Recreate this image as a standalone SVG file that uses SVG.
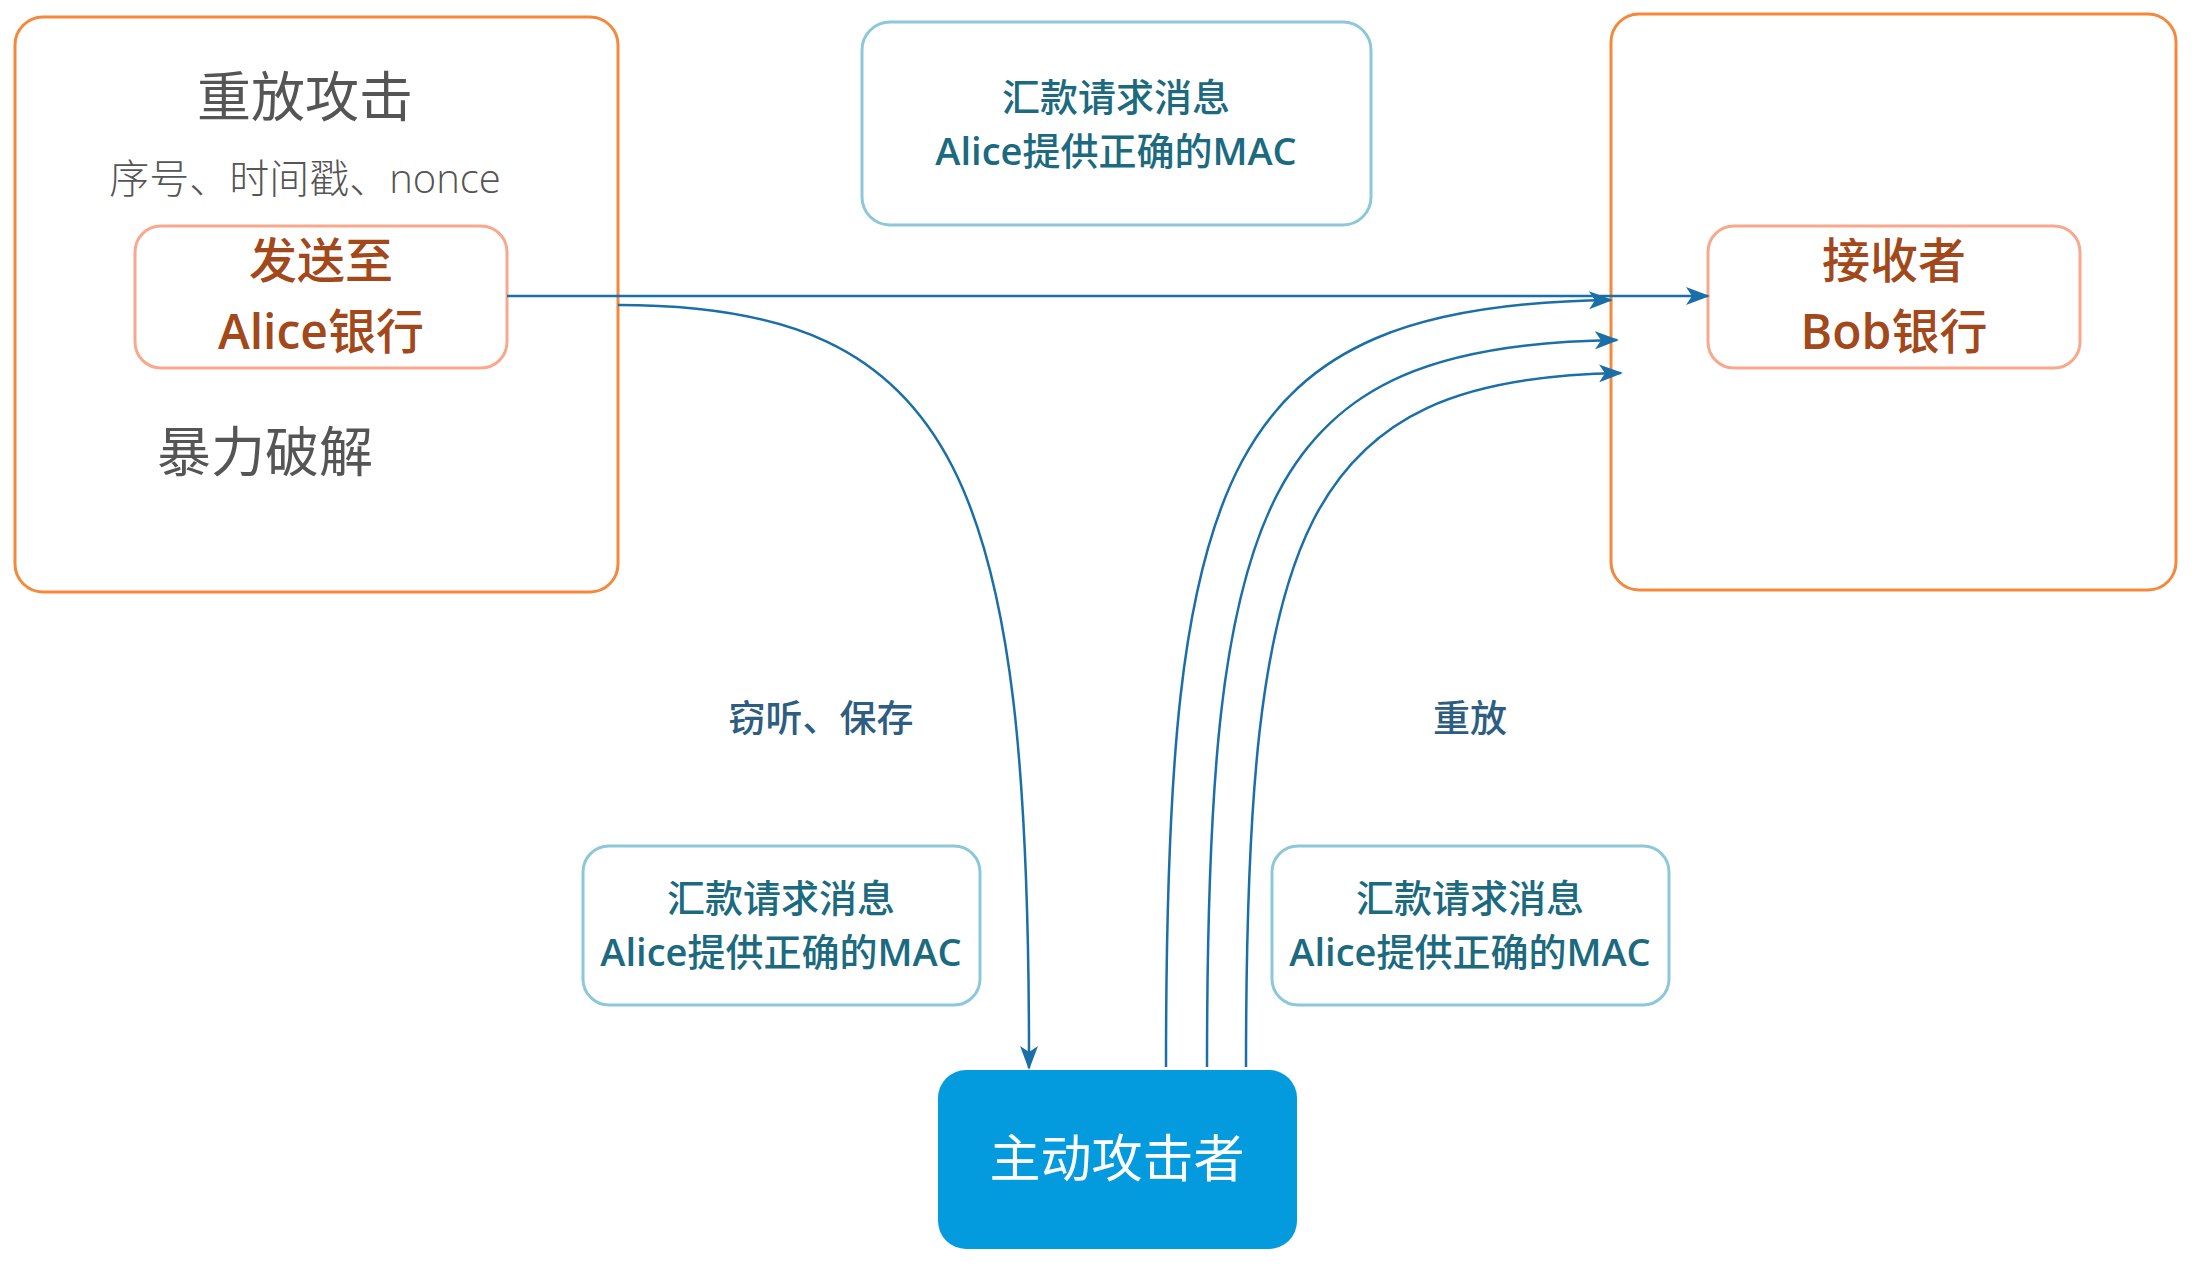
<svg xmlns="http://www.w3.org/2000/svg" width="2201" height="1273" viewBox="0 0 2201 1273">
<defs>
<marker id="arr" viewBox="0 0 24 18" refX="22" refY="9" markerWidth="24" markerHeight="18" markerUnits="userSpaceOnUse" orient="auto">
<path d="M0,0 L24,9 L0,18 L6,9 Z" fill="#1a6fa8"/>
</marker>
<style>
.outer{fill:#fff;stroke:#f5883a;stroke-width:3}
.inner{fill:#fff;stroke:#f8a88c;stroke-width:3}
.msg{fill:#fff;stroke:#8cc7da;stroke-width:3}
.t{font-family:"Open Sans","Noto Sans CJK SC",sans-serif;text-anchor:middle}
.gray{fill:#555}
.brown{fill:#a2481a;font-size:48px;font-weight:500}
.teal{fill:#1b6a80;font-size:38px;font-weight:500}
.lab{fill:#2d5d80;font-size:37px;font-weight:500}
.lat{font-weight:600}
.conn{fill:none;stroke:#1a6fa8;stroke-width:2.5}
</style>
</defs>
<rect width="2201" height="1273" fill="#fff"/>
<g id="sender-group">
<rect class="outer" x="15" y="17" width="603" height="575" rx="28"/>
<text class="t gray" x="305" y="117" font-size="54">重放攻击</text>
<text class="t gray" x="305" y="193" font-size="40" font-weight="300">序号、时间戳、nonce</text>
<text class="t gray" x="265" y="472" font-size="54">暴力破解</text>
</g>
<g id="alice">
<rect class="inner" x="135" y="226" width="372" height="142" rx="26"/>
<text class="t brown" x="321" y="278">发送至</text>
<text class="t brown" x="321" y="349"><tspan class="lat">Alice</tspan>银行</text>
</g>
<g id="receiver-group">
<rect class="outer" x="1611" y="14" width="565" height="576" rx="28"/>
</g>
<g id="bob">
<rect class="inner" x="1708" y="226" width="372" height="142" rx="26"/>
<text class="t brown" x="1894" y="278">接收者</text>
<text class="t brown" x="1894" y="349"><tspan class="lat">Bob</tspan>银行</text>
</g>
<g id="msg-top">
<rect class="msg" x="862" y="22" width="509" height="203" rx="28"/>
<text class="t teal" x="1116" y="111">汇款请求消息</text>
<text class="t teal" x="1116" y="165"><tspan class="lat">Alice</tspan>提供正确的<tspan class="lat">MAC</tspan></text>
</g>
<g id="msg-left">
<rect class="msg" x="583" y="846" width="397" height="159" rx="26"/>
<text class="t teal" x="781" y="912">汇款请求消息</text>
<text class="t teal" x="781" y="966"><tspan class="lat">Alice</tspan>提供正确的<tspan class="lat">MAC</tspan></text>
</g>
<g id="msg-right">
<rect class="msg" x="1272" y="846" width="397" height="159" rx="26"/>
<text class="t teal" x="1470" y="912">汇款请求消息</text>
<text class="t teal" x="1470" y="966"><tspan class="lat">Alice</tspan>提供正确的<tspan class="lat">MAC</tspan></text>
</g>
<g id="attacker">
<rect x="938" y="1070" width="359" height="179" rx="28" fill="#039ade"/>
<text class="t" x="1117" y="1177" font-size="51" fill="#fff">主动攻击者</text>
</g>
<g id="labels">
<text class="t lab" x="821" y="732">窃听、保存</text>
<text class="t lab" x="1470" y="732">重放</text>
</g>
<g id="connectors">
<path class="conn" d="M507,296 L1708,296" marker-end="url(#arr)"/>
<path class="conn" d="M618,305 C960,305 1030,480 1029,1068" marker-end="url(#arr)"/>
<path class="conn" d="M1166,1067 C1166,470 1220,305 1611,300" marker-end="url(#arr)"/>
<path class="conn" d="M1207,1067 C1207,500 1260,345 1617,340" marker-end="url(#arr)"/>
<path class="conn" d="M1246,1067 C1246,530 1300,378 1621,373" marker-end="url(#arr)"/>
</g>
</svg>
